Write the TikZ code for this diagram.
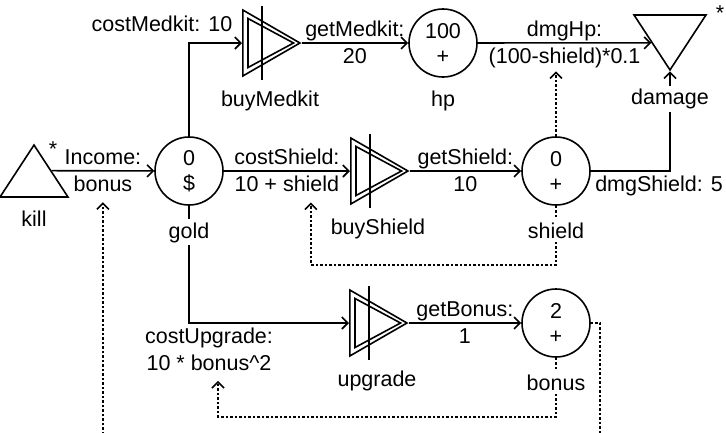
\documentclass[tikz,border=0pt]{standalone}
\usepackage{fontspec}
\setmainfont{Liberation Sans}
\usetikzlibrary{arrows.meta,positioning,shapes.geometric,backgrounds}
\tikzset{
  pool/.style={circle,draw,line width=1.6pt,minimum size=68pt,inner sep=0pt,align=center},
  conv/.style={regular polygon,regular polygon sides=3,shape border rotate=-90,draw,
    line width=1.6pt,minimum size=76.2pt,inner sep=0pt,anchor=side 2},
  gate/.style={regular polygon,regular polygon sides=3,draw,line width=1.6pt,
    inner sep=0pt,transform shape},
  flow/.style={line width=1.6pt,-{Straight Barb[length=6pt,width=12pt]}},
  dep/.style={flow,dash pattern=on 2.5pt off 2pt},
  hi/.style={above,inner sep=1pt,text height=16pt,text depth=4.3pt},
  lo/.style={below=2.5pt,inner sep=1pt,text height=16pt,text depth=4.3pt},
  tag/.style={anchor=base,fill=white,inner sep=3pt}
}
\begin{document}
\begin{tikzpicture}[x=1pt,y=1pt,font=\fontsize{21.5}{25}\selectfont]
  \useasboundingbox (0,0) rectangle (726,-432);
  % pools
  \node[pool] (gold) at (189,-171) {0\\\$};
  \node[pool,on grid,above right=128pt and 254pt of gold] (hp) {100\\+};
  \node[pool,on grid,right=367pt of gold] (shield) {0\\+};
  \node[pool,on grid,below=152pt of shield] (bonus) {2\\+};
  % converters
  \node[conv] (buyMedkit) at (242,-43) {};
  \node[conv] (buyShield) at (350,-171) {};
  \node[conv] (upgrade) at (349,-323) {};
  \foreach \c in {buyMedkit,buyShield,upgrade}{
    \draw[line width=1.6pt] ([shift={(6,24.5)}]\c.side 2) -- ([xshift=-8pt]\c.corner 1)
      -- ([shift={(6,-24.5)}]\c.side 2) -- cycle;
    \draw[line width=1.6pt] ([shift={(20,37)}]\c.side 2) -- ([shift={(20,-37)}]\c.side 2);
  }
  % source and drain
  \node[gate,yscale=.883,minimum size=78.5pt] (kill) at (34,-179.7) {};
  \node[gate,yscale=.882,minimum size=83.1pt,shape border rotate=180] (damage) at (670,-33.3) {};
  \node[anchor=base] (killStar) at ([shift={(19,-13)}]kill.corner 1) {*};
  \node[anchor=base] (damageStar) at ([shift={(50,-6)}]damage.side 2) {*};
  % names
  \node[tag] (killN) at ([yshift=-29pt]kill.side 2) {kill};
  \node[tag] (goldN) at ([yshift=-67pt]gold) {gold};
  \node[tag] (hpN) at ([yshift=-63pt]hp) {hp};
  \node[tag] (shieldN) at ([yshift=-67pt]shield) {shield};
  \node[tag] (bonusN) at ([yshift=-67pt]bonus) {bonus};
  \node[tag] (buyMedkitN) at ([shift={(28,-63)}]buyMedkit.side 2) {buyMedkit};
  \node[tag] (buyShieldN) at ([shift={(28,-63)}]buyShield.side 2) {buyShield};
  \node[tag] (upgradeN) at ([shift={(28,-63)}]upgrade.side 2) {upgrade};
  \node[tag] (damageN) at ([yshift=-90pt]damage.side 2) {damage};
  \begin{scope}[on background layer]
    \clip (0,0) rectangle (726,-432);
    % flows
    \draw[flow] (kill.side 3) -- node[hi]{Income:} node[lo] (incLbl) {bonus} (gold);
    \draw[flow] (gold) |- (buyMedkit.side 2)
      node[pos=.5,anchor=base,xshift=-27pt,yshift=12pt]{costMedkit: 10};
    \draw[flow] (buyMedkit.corner 1) -- node[hi]{getMedkit:} node[lo]{20} (hp);
    \draw[flow] (gold) -- node[hi]{costShield:} node[lo] (csLbl) {10 + shield} (buyShield.side 2);
    \draw[flow] (buyShield.corner 1) -- node[hi]{getShield:} node[lo]{10} (shield);
    \draw[flow] (gold) |- node[anchor=north,align=center,inner sep=1pt,xshift=20pt,yshift=-3pt] (cuLbl)
      {costUpgrade:\\[2pt]10 * bonus\textasciicircum 2} (upgrade.side 2);
    \draw[flow] (upgrade.corner 1) -- node[hi]{getBonus:} node[lo]{1} (bonus);
    \draw[flow] (hp) -- node[hi]{dmgHp:} node[lo] (dhLbl) {(100-shield)*0.1} (damage.side 3);
    \draw[flow] (shield) -| node[lo,xshift=-11pt]{dmgShield: 5} (damage.corner 1);
    % dependencies
    \draw[dep,shorten >=2pt] (shield) -- (shield.north |- dhLbl.south);
    \draw[dep,shorten >=5pt] (shield.south) -- ++(0,-59) -| ([xshift=24pt]csLbl.south);
    \draw[dep,shorten >=8.5pt] (bonus.south) -- ++(0,-59) -| ([xshift=9pt]cuLbl.south);
    \coordinate (loopLow) at (600,-445);
    \draw[dep,shorten >=5pt] (bonus.east) -| (loopLow) -| (incLbl.south);
  \end{scope}
\end{tikzpicture}
\end{document}
